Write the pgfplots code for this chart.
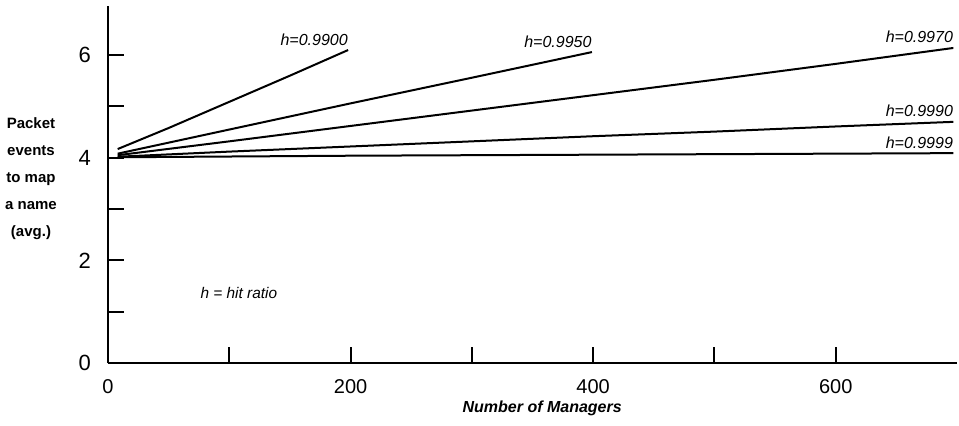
\documentclass[border=0pt]{standalone}
\usepackage{pgfplots}
\pgfplotsset{compat=1.18}
\usepackage{fontspec}
\setmainfont{Liberation Sans}
\begin{document}
\begin{tikzpicture}
\useasboundingbox (-54pt,-31pt) rectangle (425.5pt,181.5pt);
\begin{axis}[
  at={(0,0)}, anchor=south west,
  scale only axis,
  width=424.5pt, height=178.3pt,
  xmin=0, xmax=700, ymin=0, ymax=6.95,
  axis lines=left,
  axis line style={-, line width=1pt},
  xtick={0,100,...,600}, xticklabels={0,,200,,400,,600},
  ytick={0,1,...,6}, yticklabels={0,,2,,4,,6},
  tick align=inside,
  major tick length=8pt,
  tick style={line width=1pt, black},
  /pgf/number format/assume math mode=true,
  xticklabel style={font=\fontsize{10}{10}\selectfont, yshift=-4.5pt},
  yticklabel style={font=\fontsize{11}{11}\selectfont, xshift=-5pt},
  clip=false,
]
\addplot[black, line width=1pt] coordinates {(8,4.17) (50,4.58) (100,5.09) (150,5.60) (198,6.10)};
\addplot[black, line width=1pt] coordinates {(8,4.08) (100,4.55) (200,5.06) (300,5.56) (399,6.06)};
\addplot[black, line width=1pt] coordinates {(8,4.05) (100,4.32) (200,4.62) (300,4.92) (400,5.22) (500,5.52) (600,5.83) (697,6.14)};
\addplot[black, line width=1pt] coordinates {(8,4.02) (100,4.12) (200,4.22) (300,4.32) (400,4.42) (500,4.51) (600,4.61) (697,4.70)};
\addplot[black, line width=1pt] coordinates {(8,4.01) (200,4.04) (400,4.06) (697,4.09)};
\tikzset{hl/.style={anchor=base east, yshift=2.5pt, inner sep=0pt, font=\fontsize{8}{8}\selectfont\itshape}}
\node[hl] at (axis cs:198,6.10) {h=0.9900};
\node[hl] at (axis cs:399,6.06) {h=0.9950};
\node[hl] at (axis cs:697,6.14) {h=0.9970};
\node[hl] at (axis cs:697,4.70) {h=0.9990};
\node[hl] at (axis cs:697,4.09) {h=0.9999};
\node[anchor=west, inner sep=0pt, font=\fontsize{7.7}{8}\selectfont\itshape] at (axis cs:76,1.36) {h = hit ratio};
\node[inner sep=0pt, font=\fontsize{8}{8}\selectfont\bfseries\itshape] at (axis cs:358,0) [yshift=-22.5pt] {Number of Managers};
\node[inner sep=0pt, align=center, font=\fontsize{7.5}{13.5}\selectfont\bfseries] at (axis cs:0,3.59) [xshift=-38.5pt] {Packet\\events\\to map\\a name\\(avg.)};
\end{axis}
\end{tikzpicture}
\end{document}
